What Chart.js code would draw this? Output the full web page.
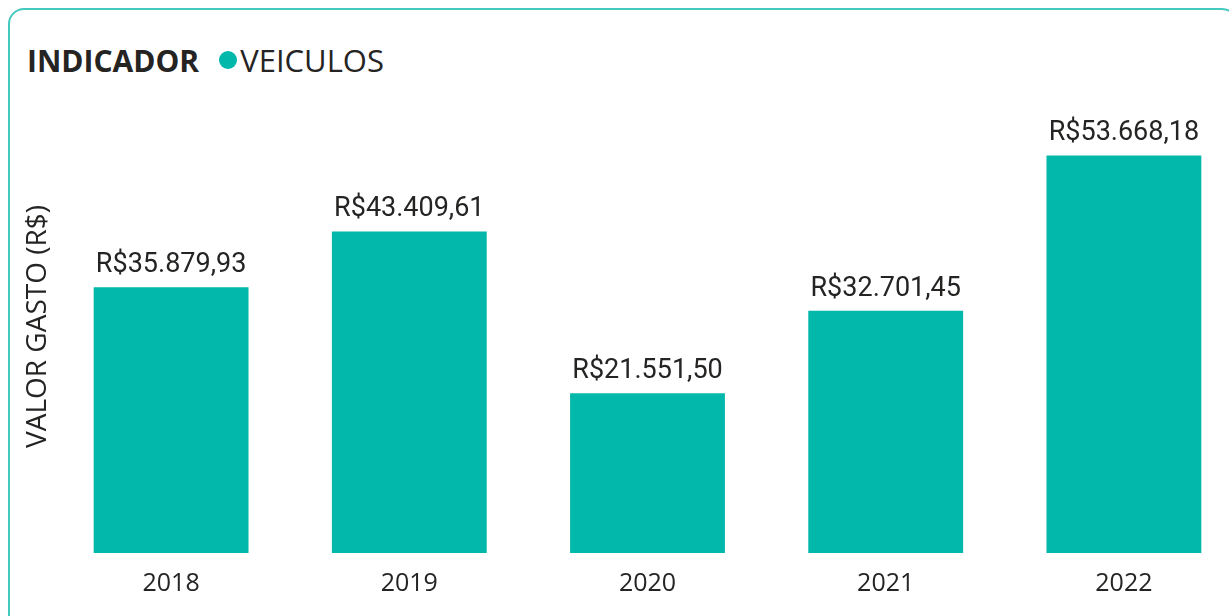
<!DOCTYPE html>
<html>
<head>
<meta charset="utf-8">
<script src="https://cdn.jsdelivr.net/npm/chart.js@4.4.0/dist/chart.umd.min.js"></script>
<style>
  html, body { margin: 0; padding: 0; background: #fff; overflow: hidden; }
  body { width: 1229px; height: 616px; position: relative; }
  .card {
    position: absolute; left: 8px; top: 8px; width: 1230px; height: 640px;
    border: 2px solid #45c8be; border-radius: 16px; box-sizing: border-box;
  }
  .header {
    position: absolute; left: 27px; top: 39px; height: 42px;
    font-family: "Open Sans", sans-serif; color: #252423;
    display: flex; align-items: center; white-space: nowrap;
  }
  .header .title { font-weight: 700; font-size: 30px; letter-spacing: 0px; }
  .header .dot {
    display: inline-block; width: 18px; height: 18px; border-radius: 50%;
    background: #01b8aa; margin-left: 20px; margin-right: 3px;
  }
  .header .serie { font-size: 31px; letter-spacing: 0px; }
  #wrap { position: absolute; left: 0; top: 0; width: 1243px; height: 616px; }
</style>
</head>
<body>
<div class="card"></div>
<div class="header"><span class="title">INDICADOR</span><span class="dot"></span><span class="serie">VEICULOS</span></div>
<div id="wrap"><canvas id="chart"></canvas></div>
<script>
// dados do grafico
const anos = ['2018', '2019', '2020', '2021', '2022'];
const valorGasto = [35879.93, 43409.61, 21551.50, 32701.45, 53668.18];
const serieNome = 'VEICULOS';

const corBarra = '#01b8aa';
const corTexto = '#252423';

// formata numero no padrao brasileiro: R$35.879,93
function formatReal(v) {
    const partes = v.toFixed(2).split('.');
    const inteiro = partes[0].replace(/\B(?=(\d{3})+(?!\d))/g, '.');
    return 'R$' + inteiro + ',' + partes[1];
}

// plugin simples para escrever o valor acima de cada barra
const rotulosPlugin = {
    id: 'rotulos',
    afterDatasetsDraw(chart) {
        const ctx = chart.ctx;
        const meta = chart.getDatasetMeta(0);
        ctx.save();
        ctx.font = '27px Roboto, sans-serif';
        ctx.fillStyle = corTexto;
        ctx.textAlign = 'center';
        ctx.textBaseline = 'alphabetic';
        meta.data.forEach((bar, i) => {
            ctx.fillText(formatReal(valorGasto[i]), bar.x, bar.y - 15);
        });
        ctx.restore();
    }
};

const ctx = document.getElementById('chart').getContext('2d');
new Chart(ctx, {
    type: 'bar',
    data: {
        labels: anos,
        datasets: [{
            label: serieNome,
            data: valorGasto,
            backgroundColor: corBarra,
            barPercentage: 0.65,
            categoryPercentage: 1.0
        }]
    },
    options: {
        responsive: true,
        maintainAspectRatio: false,
        animation: false,
        layout: { padding: { left: 24, right: 0, top: 100, bottom: 1 } },
        plugins: {
            legend: { display: false },
            tooltip: { enabled: false }
        },
        scales: {
            x: {
                grid: { display: false, drawTicks: false },
                border: { display: false },
                ticks: {
                    color: corTexto,
                    padding: 16,
                    font: { family: '"Open Sans", sans-serif', size: 25 }
                }
            },
            y: {
                min: 0,
                max: 61160,
                grid: { display: false, drawTicks: false },
                border: { display: false },
                ticks: { display: false },
                title: {
                    display: true,
                    text: 'VALOR GASTO (R$)',
                    color: corTexto,
                    padding: 0,
                    font: { family: '"Open Sans", sans-serif', size: 28, lineHeight: 1 }
                }
            }
        }
    },
    plugins: [rotulosPlugin]
});
</script>
</body>
</html>
